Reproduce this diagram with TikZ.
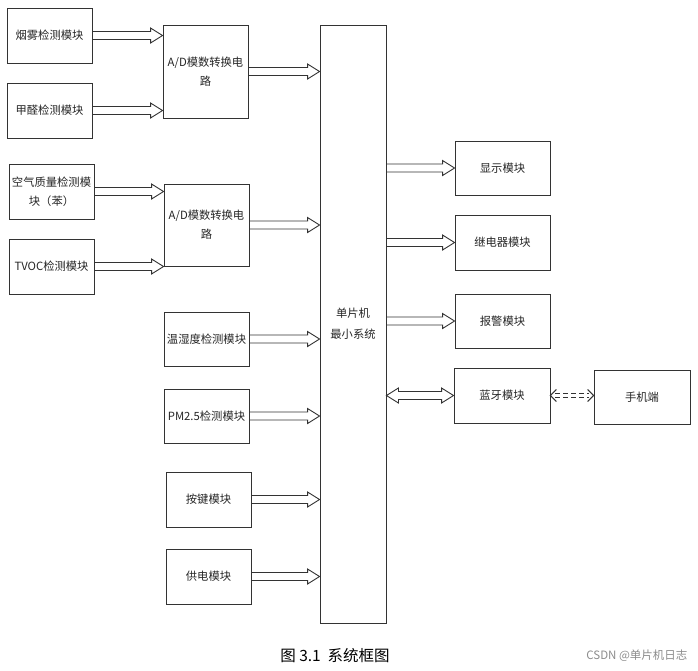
\documentclass[tikz,border=0pt]{standalone}
\usepackage{fontspec}
\newfontfamily\cjk{Noto Sans CJK SC}
\usetikzlibrary{calc}
\tikzset{
  box/.style={draw=black!80, line width=0.9pt, fill=white, inner sep=1pt, align=center,
    font=\cjk\fontsize{11.3}{19}\selectfont, text=black!85},
  arrline/.style={draw=black!80, line width=0.9pt, line join=miter},
}
\newcommand\barr[2]{\draw[arrline] let \p1=#1, \p2=#2 in
  (\x1,\y1+4pt) -- (\x2-12pt,\y1+4pt) -- (\x2-12pt,\y1+7.5pt) -- (\x2,\y1)
  -- (\x2-12pt,\y1-7.5pt) -- (\x2-12pt,\y1-4pt) -- (\x1,\y1-4pt);}
\newcommand\bbarr[2]{\draw[arrline] let \p1=#1, \p2=#2 in
  (\x1,\y1) -- (\x1+12pt,\y1+7.5pt) -- (\x1+12pt,\y1+4pt) -- (\x2-12pt,\y1+4pt)
  -- (\x2-12pt,\y1+7.5pt) -- (\x2,\y1) -- (\x2-12pt,\y1-7.5pt) -- (\x2-12pt,\y1-4pt)
  -- (\x1+12pt,\y1-4pt) -- (\x1+12pt,\y1-7.5pt) -- cycle;}
\begin{document}
\begin{tikzpicture}[x=1pt,y=-1pt]
\useasboundingbox (0,0) rectangle (698,670);
% left column
\node[box, minimum width=85pt, minimum height=55pt] (smoke) at (49.5,35.5) {烟雾检测模块};
\node[box, minimum width=85pt, minimum height=55pt] (hcho) at (49.5,110.5) {甲醛检测模块};
\node[box, minimum width=85pt, minimum height=55pt] (air) at (51.5,191.5) {空气质量检测模\\块（苯）};
\node[box, minimum width=85pt, minimum height=55pt] (tvoc) at (51.5,266.5) {TVOC检测模块};
% A/D
\node[box, minimum width=85pt, minimum height=93pt] (ad1) at (205.5,71.5) {A/D模数转换电\\路};
\node[box, minimum width=85pt, minimum height=82pt] (ad2) at (206.5,225) {A/D模数转换电\\路};
% middle column
\node[box, minimum width=85pt, minimum height=54pt] (th) at (206.5,339) {温湿度检测模块};
\node[box, minimum width=85pt, minimum height=54pt] (pm) at (206.5,416) {PM2.5检测模块};
\node[box, minimum width=85pt, minimum height=55pt] (key) at (208.5,499.5) {按键模块};
\node[box, minimum width=85pt, minimum height=55pt] (pwr) at (208.5,576.5) {供电模块};
% MCU
\node[box, minimum width=66pt, minimum height=598pt, font=\cjk\fontsize{11.3}{21}\selectfont] (mcu) at (353,324) {单片机\\最小系统};
% right column
\node[box, minimum width=95pt, minimum height=54pt] (disp) at (502.5,168) {显示模块};
\node[box, minimum width=95pt, minimum height=55pt] (relay) at (502.5,242.5) {继电器模块};
\node[box, minimum width=95pt, minimum height=54pt] (alarm) at (502.5,321) {报警模块};
\node[box, minimum width=96pt, minimum height=55pt] (bt) at (502,395.5) {蓝牙模块};
\node[box, minimum width=96pt, minimum height=54pt] (phone) at (642,397) {手机端};
% arrows
\barr{(smoke.east)}{(ad1.west |- smoke.east)}
\barr{(hcho.east)}{(ad1.west |- hcho.east)}
\barr{(ad1.east)}{(mcu.west |- ad1.east)}
\barr{(air.east)}{(ad2.west |- air.east)}
\barr{(tvoc.east)}{(ad2.west |- tvoc.east)}
\barr{(ad2.east)}{(mcu.west |- ad2.east)}
\barr{(th.east)}{(mcu.west |- th.east)}
\barr{(pm.east)}{(mcu.west |- pm.east)}
\barr{(key.east)}{(mcu.west |- key.east)}
\barr{(pwr.east)}{(mcu.west |- pwr.east)}
\barr{(mcu.east |- disp.west)}{(disp.west)}
\barr{(mcu.east |- relay.west)}{(relay.west)}
\barr{(mcu.east |- alarm.west)}{(alarm.west)}
\bbarr{(mcu.east |- bt.west)}{(bt.west)}
% dashed link
\coordinate (bl) at (bt.east);
\coordinate (br) at (phone.west |- bt.east);
\draw[arrline, line width=1.1pt, dash pattern=on 5pt off 3pt] ($(bl)+(5,-2)$) -- ($(br)+(-5,-2)$);
\draw[arrline, line width=1.1pt, dash pattern=on 5pt off 3pt] ($(bl)+(5,2)$) -- ($(br)+(-5,2)$);
\draw[arrline, line width=1.1pt] ($(bl)+(6,-6)$) -- (bl) -- ($(bl)+(6,6)$);
\draw[arrline, line width=1.1pt] ($(br)+(-6,-6)$) -- (br) -- ($(br)+(-6,6)$);
% caption
\node[font=\cjk\fontsize{15.5}{18}\selectfont, anchor=center] (cap) at (335,656) {图 3.1\ \ 系统框图};
\node[font=\cjk\fontsize{11.5}{13}\selectfont, text=black!45, anchor=east] (wm) at (691,656) {CSDN @单片机日志};
\end{tikzpicture}
\end{document}
